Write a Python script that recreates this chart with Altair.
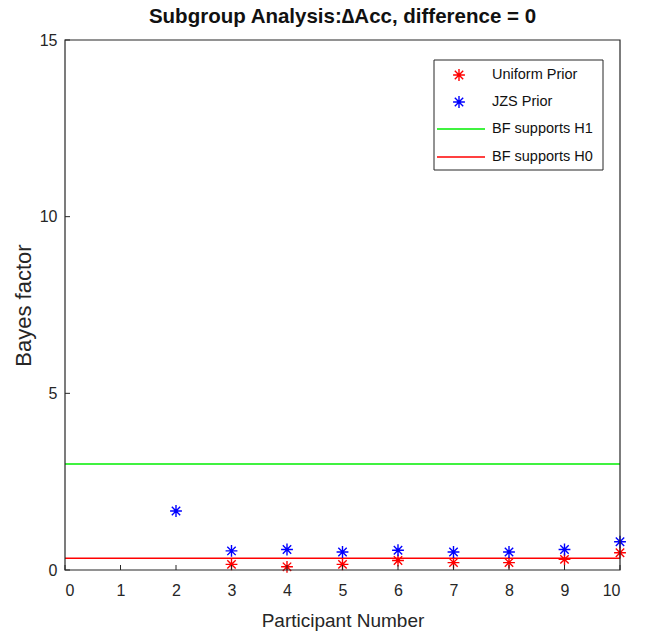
import altair as alt
import pandas as pd

participants = [2, 3, 4, 5, 6, 7, 8, 9, 10]
uniform_x = [3, 4, 5, 6, 7, 8, 9, 10]
uniform_bf = [0.16, 0.09, 0.16, 0.27, 0.21, 0.21, 0.30, 0.49]
jzs_bf = [1.67, 0.54, 0.58, 0.51, 0.56, 0.51, 0.51, 0.58, 0.80]
thresholds = [3.0, 1/3]
threshold_labels = ["BF supports H1", "BF supports H0"]
x_ticks = list(range(0, 11))
y_ticks = [0, 5, 10, 15]

RED = "#ff0000"
BLUE = "#0000ff"
GREEN = "#00ee00"
FONT = "Liberation Sans"
W, H = 555, 530
AST = "M-1,0L1,0M0,-1L0,1M-0.71,-0.71L0.71,0.71M-0.71,0.71L0.71,-0.71"
MSIZE = 140

pts = pd.DataFrame(
    [{"p": x, "bf": v, "series": "Uniform Prior"} for x, v in zip(uniform_x, uniform_bf)]
    + [{"p": x, "bf": v, "series": "JZS Prior"} for x, v in zip(participants, jzs_bf)]
)
lines = pd.DataFrame({"bf": thresholds, "series": threshold_labels})

xs = alt.Scale(domain=[0, 10], nice=False)
ys = alt.Scale(domain=[0, 15], nice=False)

xaxis = alt.Axis(values=x_ticks, title="Participant Number", grid=False, domain=False,
                 ticks=False, labelFontSize=16, labelPadding=12, titleFontSize=19,
                 titleFontWeight="normal", titlePadding=13, labelFont=FONT, titleFont=FONT,
                 labelColor="#262626", titleColor="#262626")
yaxis = alt.Axis(values=y_ticks, title="Bayes factor", grid=False, domain=False,
                 ticks=False, labelFontSize=16, labelPadding=8, titleFontSize=22,
                 titleFontWeight="normal", titlePadding=4, labelFont=FONT, titleFont=FONT,
                 labelColor="#262626", titleColor="#262626")

frame = alt.Chart(pd.DataFrame({"a": [0]})).mark_rect(fill=None, stroke="#262626", strokeWidth=1.2).encode(
    x=alt.value(0), x2=alt.value(W), y=alt.value(0), y2=alt.value(H))

rules = alt.Chart(lines).mark_rule(strokeWidth=1.5).encode(
    y=alt.Y("bf:Q", scale=ys, axis=yaxis),
    color=alt.Color("series:N", scale=alt.Scale(domain=threshold_labels, range=[GREEN, RED]), legend=None),
)

points = alt.Chart(pts).mark_point(shape=AST, size=MSIZE, strokeWidth=1.4, filled=False, opacity=1).encode(
    x=alt.X("p:Q", scale=xs, axis=xaxis),
    y=alt.Y("bf:Q", scale=ys, axis=yaxis),
    stroke=alt.Stroke("series:N", scale=alt.Scale(domain=["Uniform Prior", "JZS Prior"], range=[RED, BLUE]), legend=None),
)

xt = alt.Chart(pd.DataFrame({"t": x_ticks})).mark_rule(color="#262626").encode(
    x=alt.X("t:Q", scale=xs), y=alt.value(H), y2=alt.value(H - 5))
yt = alt.Chart(pd.DataFrame({"t": y_ticks})).mark_rule(color="#262626").encode(
    y=alt.Y("t:Q", scale=ys), x=alt.value(0), x2=alt.value(5))

# legend
leg = [alt.Chart(pd.DataFrame({"a": [0]})).mark_rect(fill="white", stroke="#262626", strokeWidth=1).encode(
    x=alt.value(369), x2=alt.value(538), y=alt.value(20), y2=alt.value(130))]
entries = [("Uniform Prior", RED, "pt", 35), ("JZS Prior", BLUE, "pt", 62),
           ("BF supports H1", GREEN, "ln", 89), ("BF supports H0", RED, "ln", 117)]
for lab, col, kind, yy in entries:
    d = pd.DataFrame({"label": [lab]})
    if kind == "pt":
        leg.append(alt.Chart(d).mark_point(shape=AST, size=MSIZE, strokeWidth=1.4, filled=False, opacity=1, color=col).encode(
            x=alt.value(394), y=alt.value(yy)))
    else:
        leg.append(alt.Chart(d).mark_rule(color=col, strokeWidth=1.5).encode(
            x=alt.value(372), x2=alt.value(420), y=alt.value(yy)))
    leg.append(alt.Chart(d).mark_text(align="left", baseline="middle", font=FONT, fontSize=14.5, color="#111").encode(
        x=alt.value(427), y=alt.value(yy), text="label:N"))

chart = alt.layer(rules, points, xt, yt, frame, *leg).properties(
    width=W, height=H,
    title=alt.TitleParams("Subgroup Analysis:\u2206Acc, difference = 0", fontSize=20.5, fontWeight="bold",
                          font=FONT, offset=5, color="#111"),
    autosize=alt.AutoSizeParams(type="none"),
    padding={"left": 65, "top": 40, "right": 25, "bottom": 64},
    background="white",
).configure_view(strokeWidth=0)

chart.save("out.html", embed_options={"renderer": "svg", "actions": False})
